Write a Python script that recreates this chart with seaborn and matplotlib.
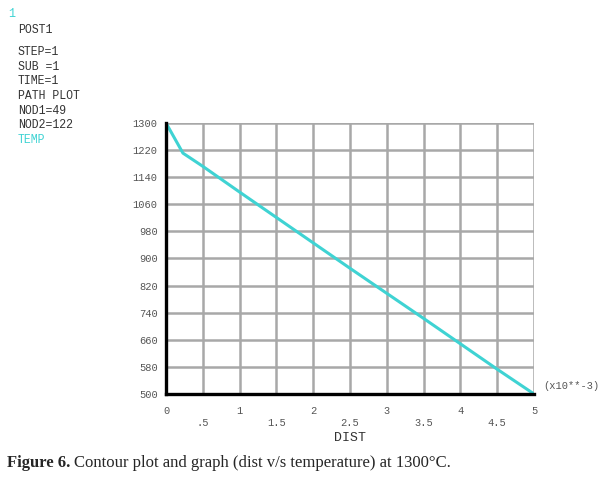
import numpy as np
import pandas as pd
import matplotlib
matplotlib.use("Agg")
import matplotlib.pyplot as plt
import seaborn as sns

# path plot values (DIST in x10**-3, TEMP)
dist = [0.0, 0.23, 0.5, 1.0, 1.5, 2.0, 2.5, 3.0, 3.5, 4.0, 4.5, 5.0]
temp = [1300, 1211, 1172, 1096, 1021, 946, 871, 797, 723, 648, 573, 500]

x_major = [0, 1, 2, 3, 4, 5]
x_minor = [0.5, 1.5, 2.5, 3.5, 4.5]
x_minor_labels = [".5", "1.5", "2.5", "3.5", "4.5"]
y_ticks = [500, 580, 660, 740, 820, 900, 980, 1060, 1140, 1220, 1300]

header = ["STEP=1", "SUB =1", "TIME=1", "PATH PLOT", "NOD1=49", "NOD2=122"]

sns.set_style("white")
mono = "Liberation Mono"
cyan = "#3fd3d3"
grid_c = "#a8a8a8"
tick_fs = 7.5

df = pd.DataFrame({"DIST": dist, "TEMP": temp})

fig = plt.figure(figsize=(6.09, 4.8), dpi=100)
ax = fig.add_axes([0.2726, 0.1792, 0.6043, 0.5646])

for xv in np.arange(0, 5.01, 0.5):
    ax.axvline(xv, color=grid_c, lw=1.8, zorder=1)
for yv in y_ticks:
    ax.axhline(yv, color=grid_c, lw=1.8, zorder=1)

sns.lineplot(data=df, x="DIST", y="TEMP", ax=ax, color=cyan, lw=2.2, zorder=3)

ax.set_xlim(0, 5)
ax.set_ylim(500, 1300)
ax.set_xticks(x_major)
ax.set_xticklabels([str(v) for v in x_major], fontsize=tick_fs, family=mono, color="#555555")
ax.set_xticks(x_minor, minor=True)
ax.set_xticklabels(x_minor_labels, minor=True, fontsize=tick_fs, family=mono, color="#555555")
ax.tick_params(axis="x", which="major", length=0, pad=9)
ax.tick_params(axis="x", which="minor", length=5, color=grid_c, width=1.5, pad=12)
ax.set_yticks(y_ticks)
ax.set_yticklabels([str(v) for v in y_ticks], fontsize=tick_fs, family=mono, color="#555555")
ax.tick_params(axis="y", length=4, color=grid_c, width=1.5, pad=2)

for s in ["top", "right"]:
    ax.spines[s].set_visible(False)
for s in ["left", "bottom"]:
    ax.spines[s].set_color("black")
    ax.spines[s].set_linewidth(2.4)
    ax.spines[s].set_zorder(4)

ax.set_xlabel("DIST", fontsize=9.5, family=mono, color="#333333", va="center")
ax.xaxis.set_label_coords(0.5, -0.162)
ax.set_ylabel("")
ax.text(1.025, 0.01, "(x10**-3)", transform=ax.transAxes, fontsize=tick_fs,
        family=mono, color="#555555", va="bottom", ha="left")

fig.text(8 / 609, 1 - 14 / 480, "1", fontsize=8.5, family=mono, color=cyan, va="center")
fig.text(18 / 609, 1 - 30 / 480, "POST1", fontsize=8.3, family=mono, color="#333333", va="center")
for i, line in enumerate(header):
    fig.text(18 / 609, 1 - (52 + i * 14.7) / 480, line, fontsize=8.3,
             family=mono, color="#333333", va="center")
fig.text(18 / 609, 1 - 140 / 480, "TEMP", fontsize=8.3, family=mono, color=cyan, va="center")

cap_b = fig.text(7 / 609, 1 - 463 / 480, "Figure 6.", fontsize=12.0, family="Liberation Serif",
                 weight="bold", va="center")
fig.canvas.draw()
bb = cap_b.get_window_extent(fig.canvas.get_renderer())
fig.text(bb.x1 / fig.bbox.width + 4 / 609, 1 - 463 / 480,
         "Contour plot and graph (dist v/s temperature) at 1300°C.",
         fontsize=12.0, family="Liberation Serif", va="center")

fig.savefig("out.png", dpi=100)
